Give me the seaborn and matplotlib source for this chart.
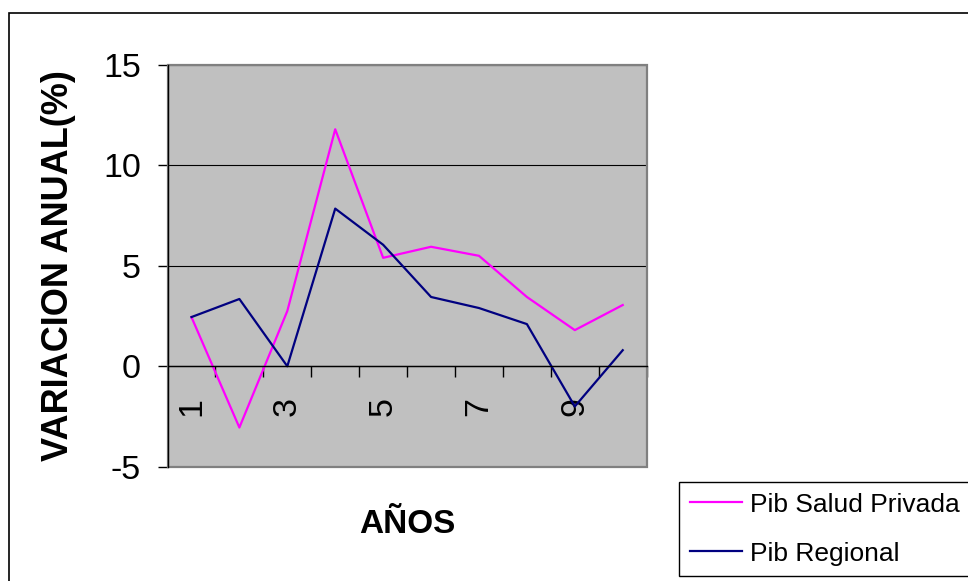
import matplotlib
matplotlib.use("Agg")
import matplotlib.pyplot as plt
from matplotlib.patches import Rectangle
import pandas as pd
import seaborn as sns

# Annual variation (%) by year index
years = list(range(1, 11))
salud_privada = [2.45, -3.05, 2.75, 11.8, 5.4, 5.95, 5.5, 3.45, 1.8, 3.05]
regional = [2.45, 3.35, 0.0, 7.85, 6.05, 3.45, 2.9, 2.1, -2.0, 0.8]
series_names = ["Pib Salud Privada", "Pib Regional"]
series_colors = ["#FF00FF", "#000080"]
y_ticks = [-5, 0, 5, 10, 15]
x_tick_labels = [1, 3, 5, 7, 9]

df = pd.DataFrame({
    "anio": years * 2,
    "variacion": salud_privada + regional,
    "serie": [series_names[0]] * len(years) + [series_names[1]] * len(years),
})

plt.rcParams["font.family"] = ["Liberation Sans", "DejaVu Sans"]
plt.rcParams["axes.unicode_minus"] = False

W, H = 968, 581
fig = plt.figure(figsize=(W / 100, H / 100), dpi=100)
fig.patch.set_facecolor("white")

# outer chart frame (runs off the right and bottom edges)
fig.add_artist(Rectangle((8.5 / W, -0.05), 1.2, 1 - 13 / H + 0.05,
                         transform=fig.transFigure, fill=False,
                         edgecolor="black", lw=1.2))

ax = fig.add_axes([167.5 / W, 1 - 466.7 / H, 479.2 / W, 401.7 / H])
ax.set_facecolor("#C0C0C0")

sns.lineplot(data=df, x="anio", y="variacion", hue="serie",
             hue_order=series_names,
             palette=dict(zip(series_names, series_colors)),
             linewidth=1.6, ax=ax, legend=True)

ax.set_xlim(0.5, 10.5)
ax.set_ylim(-5, 15)

# horizontal gridlines
ax.set_axisbelow(True)
ax.yaxis.grid(True, color="black", lw=0.8)
ax.xaxis.grid(False)

# plot-area border
ax.add_patch(Rectangle((0, 0), 1, 1, transform=ax.transAxes, fill=False,
                       edgecolor="#808080", lw=1.6, zorder=1.5, clip_on=False))

for s in ["top", "right"]:
    ax.spines[s].set_visible(False)
ax.spines["left"].set_color("black")
ax.spines["left"].set_linewidth(1.0)
ax.spines["bottom"].set_position(("data", 0))
ax.spines["bottom"].set_color("black")
ax.spines["bottom"].set_linewidth(1.0)

# y axis
ax.set_yticks(y_ticks)
ax.tick_params(axis="y", which="major", direction="out", length=7,
               width=1, color="black", labelsize=24.5, pad=12)

# x axis: tick marks between categories, labels on selected categories
ax.set_xticks([i + 0.5 for i in years])
ax.set_xticklabels([])
ax.set_xticks(x_tick_labels, minor=True)
ax.set_xticklabels([str(v) for v in x_tick_labels], minor=True, rotation=90)
ax.tick_params(axis="x", which="major", direction="out", length=8,
               width=1, color="black")
ax.tick_params(axis="x", which="minor", length=0, labelsize=24.5, pad=22)

ax.set_xlabel("AÑOS", fontsize=24, fontweight="bold")
ax.xaxis.set_label_coords(0.5, -0.105)
ax.set_ylabel("VARIACION ANUAL(%)", fontsize=26, fontweight="bold")
ax.yaxis.set_label_coords(-0.19, 0.5)

handles, labels = ax.get_legend_handles_labels()
ax.get_legend().remove()
leg = fig.legend(handles, labels, loc="upper left",
                 bbox_to_anchor=(679 / W, 1 - 482 / H), borderaxespad=0,
                 fontsize=19, frameon=True, fancybox=False, framealpha=1,
                 edgecolor="black", handlelength=2.0, handletextpad=0.3,
                 labelspacing=0.95, borderpad=0.4)
leg.get_frame().set_linewidth(1.0)

fig.savefig("out.png", dpi=100, facecolor="white")
